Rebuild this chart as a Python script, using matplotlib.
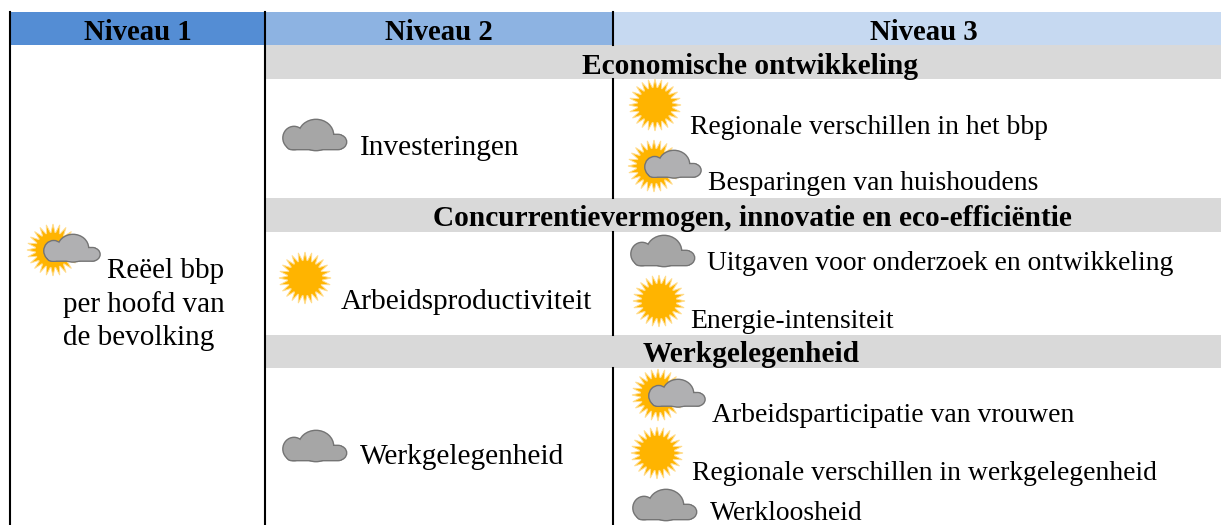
#!/usr/bin/python3
# -*- coding: utf-8 -*-
import numpy as np
import matplotlib
matplotlib.use('Agg')
import matplotlib.pyplot as plt
from matplotlib.patches import Circle, Ellipse, FancyBboxPatch, Polygon, Rectangle

W = 1221
H = 525

# table contents
HEADERS = ['Niveau 1', 'Niveau 2', 'Niveau 3']
THEMES = ['Economische ontwikkeling',
          'Concurrentievermogen, innovatie en eco-efficiëntie',
          'Werkgelegenheid']
LEVEL1 = ['Reëel bbp', 'per hoofd van', 'de bevolking']
LEVEL2 = ['Investeringen', 'Arbeidsproductiviteit', 'Werkgelegenheid']
LEVEL2_WEATHER = ['cloud', 'sun', 'cloud']
LEVEL3 = ['Regionale verschillen in het bbp', 'Besparingen van huishoudens',
          'Uitgaven voor onderzoek en ontwikkeling', 'Energie-intensiteit',
          'Arbeidsparticipatie van vrouwen',
          'Regionale verschillen in werkgelegenheid', 'Werkloosheid']
LEVEL3_WEATHER = ['sun', 'both', 'cloud', 'sun', 'both', 'sun', 'cloud']

# layout in pixels, y runs downward
COL_X = [10, 265, 613, W]
HEADER_TOP = 12
HEADER_BOTTOM = 45
HEADER_COLORS = ['#548dd4', '#8db3e2', '#c6d9f1']
BANDS = [(45, 79), (198, 232), (335, 368)]
THEME_Y = [66, 219, 354]
THEME_X = [750, 752, 751]
L2_TEXT = [(360, 148), (341, 302), (360, 457)]
L2_ICON = [(283, 120), (279, 252), (283, 431)]
L3_TEXT = [(690, 127), (708, 184), (707, 263), (690, 322), (712, 416), (692, 474), (710, 513)]
L3_ICON = [(629, 79), (628, 140), (631, 236), (633, 275), (632, 369), (631, 427), (633, 490)]
L1_ICON = (27, 224)
L1_TEXT_X = [107, 63, 63]
L1_TEXT_Y = [271, 305, 338]

SERIF = ['Liberation Serif', 'DejaVu Serif']


def draw_sun(ax, x, y, r=26, z=3):
    # x, y is the centre. Spikes alternate so the rim looks like a flame
    n = 24
    ang = np.linspace(0, 2 * np.pi, 2 * n, endpoint=False)
    rad = np.where(np.arange(2 * n) % 2 == 0, r, r * 0.64)
    ax.add_patch(Polygon(np.column_stack((x + rad * np.cos(ang), y + rad * np.sin(ang))),
                         closed=True, fc='#ffb400', ec='#ffdc8c', lw=0.7, zorder=z))
    ax.add_patch(Circle((x, y), r * 0.66, fc='#ffb400', ec='none', zorder=z))


def cloud_parts(x, y, s, **kw):
    # x, y is the top left corner of a cloud 64 wide at s=1
    return [FancyBboxPatch((x + 4 * s, y + 15 * s), 56 * s, 14 * s,
                           boxstyle='round,pad=0,rounding_size=%.1f' % (5 * s), **kw),
            Ellipse((x + 11 * s, y + 18 * s), 21 * s, 22 * s, **kw),
            Ellipse((x + 33 * s, y + 15 * s), 34 * s, 30 * s, **kw),
            Ellipse((x + 56 * s, y + 22 * s), 14 * s, 13 * s, **kw)]


def draw_cloud(ax, x, y, s=1.0, fill='#a6a6a6', z=4):
    for p in cloud_parts(x, y, s, fc='#747474', ec='#747474', lw=2.0, zorder=z):
        ax.add_patch(p)
    for p in cloud_parts(x, y, s, fc=fill, ec='none', zorder=z + 1):
        ax.add_patch(p)


def draw_icon(ax, kind, x, y):
    # x, y is the top left corner of the icon
    if kind == 'cloud':
        draw_cloud(ax, x, y)
    elif kind == 'sun':
        draw_sun(ax, x + 26, y + 26)
    else:
        draw_sun(ax, x + 26, y + 26)
        draw_cloud(ax, x + 17, y + 11, 0.88, fill='#b0b0b2')


def main():
    fig = plt.figure(figsize=(W / 100, H / 100), dpi=100)
    ax = fig.add_axes([0, 0, 1, 1])
    ax.set_xlim(0, W)
    ax.set_ylim(H, 0)
    ax.axis('off')

    header_cx = [138, 439, 924]
    for i in range(3):
        ax.add_patch(Rectangle((COL_X[i], HEADER_TOP), COL_X[i + 1] - COL_X[i],
                               HEADER_BOTTOM - HEADER_TOP,
                               fc=HEADER_COLORS[i], ec='none', zorder=1))
        ax.text(header_cx[i], 32, HEADERS[i], family=SERIF, size=20.7,
                weight='bold', ha='center', va='center', zorder=6)
    for (y0, y1), t, tx, ty in zip(BANDS, THEMES, THEME_X, THEME_Y):
        ax.add_patch(Rectangle((COL_X[1], y0), W - COL_X[1], y1 - y0,
                               fc='#d9d9d9', ec='none', zorder=1))
        ax.text(tx, ty, t, family=SERIF, size=21.2, weight='bold',
                ha='center', va='center', zorder=6)

    # column rules, the third one stops at the grey bands
    ax.plot([COL_X[0]] * 2, [HEADER_TOP, H], color='k', lw=1.5, zorder=2)
    ax.plot([COL_X[1]] * 2, [HEADER_TOP, H], color='k', lw=1.5, zorder=2)
    for y0, y1 in [(HEADER_TOP, HEADER_BOTTOM), (79, 198), (232, 335), (368, H)]:
        ax.plot([COL_X[2]] * 2, [y0, y1], color='k', lw=1.5, zorder=2)

    draw_icon(ax, 'both', L1_ICON[0], L1_ICON[1])
    for t, x, y in zip(LEVEL1, L1_TEXT_X, L1_TEXT_Y):
        ax.text(x, y, t, family=SERIF, size=21, ha='left', va='center', zorder=6)
    for t, k, tp, ip in zip(LEVEL2, LEVEL2_WEATHER, L2_TEXT, L2_ICON):
        draw_icon(ax, k, ip[0], ip[1])
        ax.text(tp[0], tp[1], t, family=SERIF, size=21.2, ha='left', va='center', zorder=6)
    for t, k, tp, ip in zip(LEVEL3, LEVEL3_WEATHER, L3_TEXT, L3_ICON):
        draw_icon(ax, k, ip[0], ip[1])
        ax.text(tp[0], tp[1], t, family=SERIF, size=19.9, ha='left', va='center', zorder=6)

    fig.savefig('out.png', dpi=100)


if __name__ == "__main__":
    main()
